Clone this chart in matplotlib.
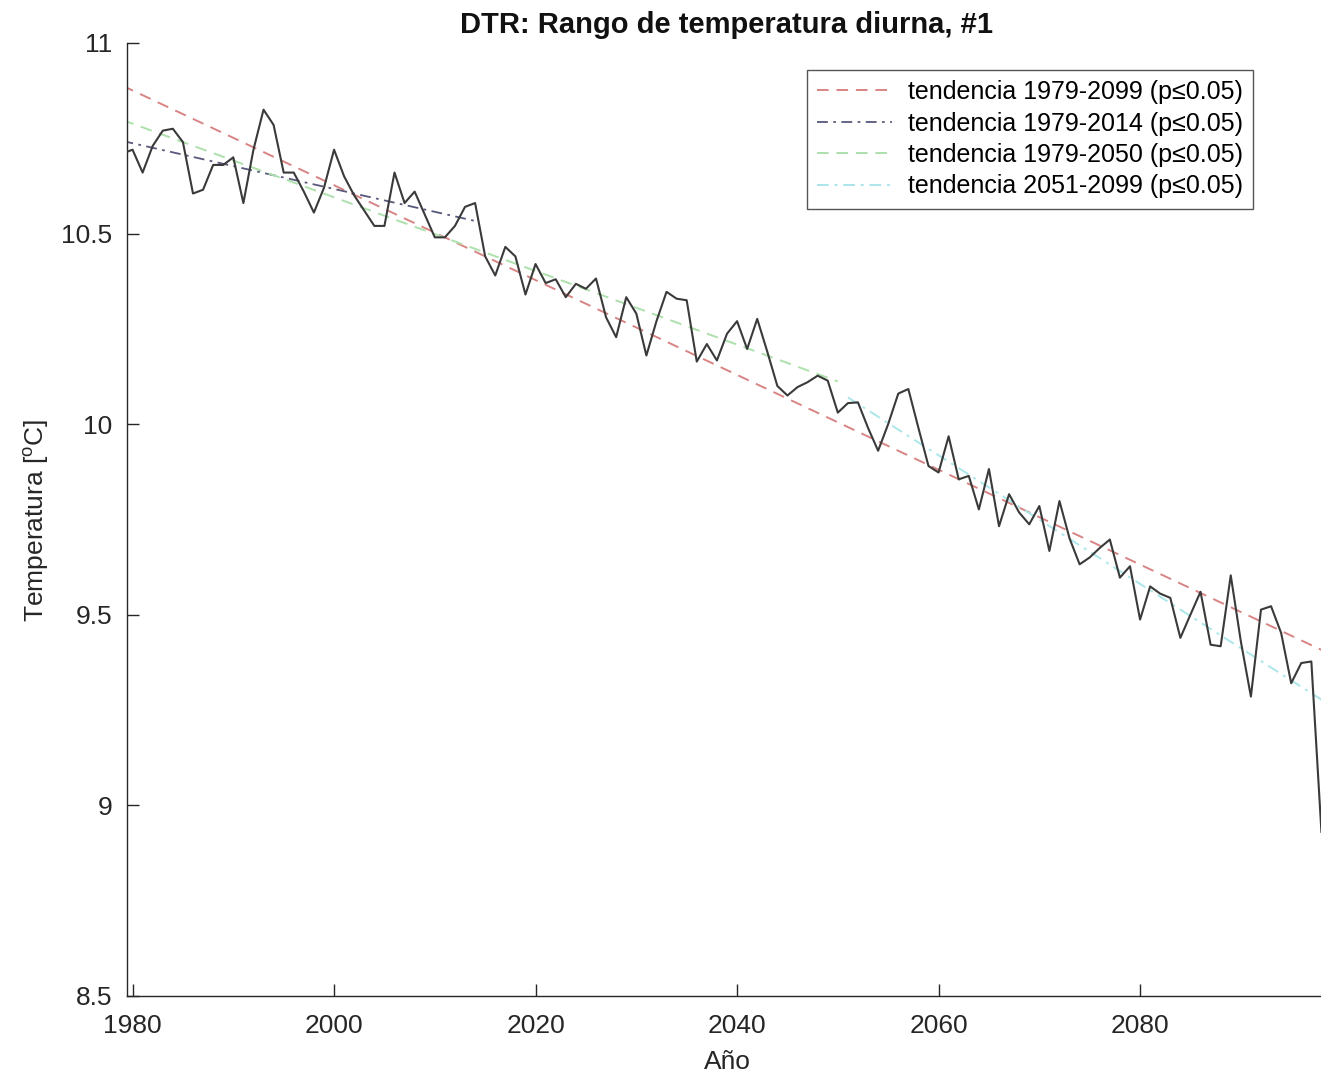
import numpy as np
import matplotlib
matplotlib.use("Agg")
import matplotlib.pyplot as plt

plt.rcParams['font.family'] = ['Liberation Sans', 'DejaVu Sans']
plt.rcParams['mathtext.fontset'] = 'custom'
plt.rcParams['mathtext.rm'] = 'Liberation Sans'

# serie anual DTR
years = np.arange(1979, 2099)
dtr = [10.71, 10.72, 10.66, 10.73, 10.77, 10.775, 10.74, 10.605, 10.615, 10.68,
       10.68, 10.70, 10.58, 10.72, 10.825, 10.785, 10.66, 10.66, 10.61, 10.555,
       10.62, 10.72, 10.65, 10.60, 10.56, 10.52, 10.52, 10.66, 10.58, 10.61,
       10.55, 10.49, 10.49, 10.52, 10.57, 10.58, 10.44, 10.39, 10.465, 10.44,
       10.34, 10.42, 10.37, 10.38, 10.333, 10.368, 10.355, 10.382, 10.28, 10.228,
       10.333, 10.29, 10.18, 10.27, 10.347, 10.329, 10.325, 10.164, 10.21, 10.167,
       10.237, 10.27, 10.197, 10.276, 10.19, 10.10, 10.075, 10.097, 10.11, 10.127,
       10.114, 10.03, 10.055, 10.057, 9.99, 9.93, 10.0, 10.08, 10.092, 9.99,
       9.89, 9.873, 9.968, 9.855, 9.864, 9.776, 9.882, 9.732, 9.816, 9.768,
       9.737, 9.785, 9.667, 9.798, 9.70, 9.632, 9.65, 9.675, 9.697, 9.597,
       9.627, 9.487, 9.574, 9.555, 9.544, 9.439, 9.50, 9.56, 9.421, 9.417,
       9.603, 9.43, 9.285, 9.513, 9.522, 9.452, 9.32, 9.373, 9.377, 8.93]

# tendencias (extremos de cada recta)
trend_all_x = [1979, 2099]
trend_all_y = [10.888, 9.395]
trend_hist_x = [1979, 2014]
trend_hist_y = [10.743, 10.533]
trend_p1_x = [1979, 2050]
trend_p1_y = [10.798, 10.112]
trend_p2_x = [2051, 2099]
trend_p2_y = [10.07, 9.26]

labels = ['tendencia 1979-2099 (p≤0.05)', 'tendencia 1979-2014 (p≤0.05)',
          'tendencia 1979-2050 (p≤0.05)', 'tendencia 2051-2099 (p≤0.05)']

W, H = 1321, 1080
fig = plt.figure(figsize=(W / 100, H / 100), dpi=100)
# el eje se sale por la derecha (figura recortada)
ax = fig.add_axes([126.5 / W, 1 - 995.7 / H, 1205 / W, 952.7 / H])

ax.plot(years, dtr, color='#3a3a3a', lw=1.5, zorder=3)
l1, = ax.plot(trend_all_x, trend_all_y, '--', color='#d98484', lw=1.4, dashes=(6, 4))
l2, = ax.plot(trend_hist_x, trend_hist_y, '-.', color='#58587c', lw=1.3, dashes=(6, 3, 1.5, 3))
l3, = ax.plot(trend_p1_x, trend_p1_y, '--', color='#ade0ad', lw=1.4, dashes=(6, 4))
l4, = ax.plot(trend_p2_x, trend_p2_y, '-.', color='#aae6ea', lw=1.4, dashes=(6, 3, 1.5, 3))

ax.set_xlim(1979.4, 2099)
ax.set_ylim(8.5, 11)
ax.set_xticks([1980, 2000, 2020, 2040, 2060, 2080])
ax.set_yticks([8.5, 9, 9.5, 10, 10.5, 11])
ax.set_yticklabels(['8.5', '9', '9.5', '10', '10.5', '11'])
ax.tick_params(direction='in', length=8.5, width=1, labelsize=19, colors='#262626')
ax.tick_params(axis='x', pad=13.5)
ax.tick_params(axis='y', pad=10)
ax.spines['top'].set_visible(False)
ax.spines['right'].set_visible(False)
for s in ['left', 'bottom']:
    ax.spines[s].set_color('#262626')
    ax.spines[s].set_linewidth(1.0)

fig.text(727 / W, 1 - 25 / H, 'DTR: Rango de temperatura diurna, #1', ha='center', va='center',
         fontsize=21, fontweight='bold', color='#111111')
fig.text(727 / W, 1 - 1062 / H, 'Año', ha='center', va='center', fontsize=19, color='#262626')
fig.text(36 / W, 1 - 520 / H, 'Temperatura [$^\\mathrm{o}$C]', ha='center', va='center',
         rotation=90, fontsize=19, color='#262626')

leg = ax.legend([l1, l2, l3, l4], labels, loc='upper right',
                bbox_to_anchor=(1253 / W, 1 - 70 / H), bbox_transform=fig.transFigure,
                borderaxespad=0, fontsize=18, fancybox=False, framealpha=1,
                edgecolor='#555555', handlelength=3.0, handletextpad=0.65,
                labelspacing=0.3, borderpad=0.4)
leg.get_frame().set_linewidth(1.0)

fig.savefig('out.png', dpi=100)
